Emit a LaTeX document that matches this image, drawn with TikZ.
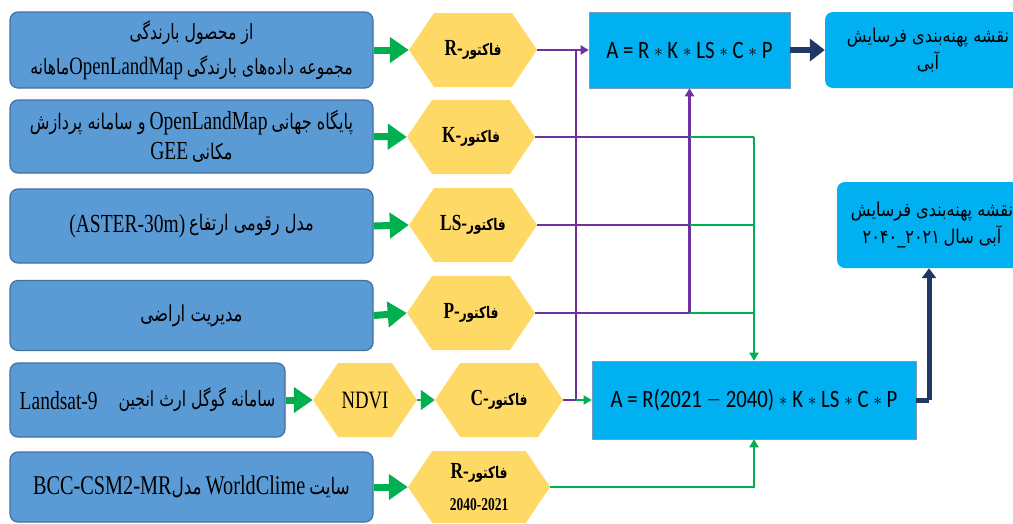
\documentclass[tikz,border=0pt]{standalone}
\usepackage{fontspec}
\setmainfont{Liberation Serif}[FakeStretch=0.75]
\newfontfamily\fa{DejaVu Sans}[Script=Arabic, FakeStretch=0.75]
\newfontfamily\fb{DejaVu Sans}[Script=Arabic, FakeStretch=0.85]
\newfontfamily\fml{Carlito}[FakeStretch=0.83]
\TeXXeTstate=1
\usetikzlibrary{shapes.symbols,arrows.meta}
\definecolor{boxblue}{HTML}{5B9BD5}
\definecolor{boxedge}{HTML}{41719C}
\definecolor{hexy}{HTML}{FFD966}
\definecolor{cyanb}{HTML}{00B0F0}
\definecolor{grn}{HTML}{00B050}
\definecolor{purp}{HTML}{7030A0}
\definecolor{navy}{HTML}{203864}
\newcommand{\pfa}[2][21]{{\fa\fontsize{#1}{#1}\selectfont\beginR #2\endR}}
\newcommand{\hfa}[1]{{\fa\bfseries\fontsize{16}{16}\selectfont\beginR #1\endR}}
\newcommand{\lat}[2][25]{{\fontsize{#1}{#1}\selectfont #2}}
\newcommand{\hlat}[1]{{\bfseries\fontsize{23}{23}\selectfont #1}}
\newcommand{\ofa}[1]{{\fb\fontsize{19}{19}\selectfont\beginR #1\endR}}
\newcommand{\fmla}[1]{{\fml\fontsize{25}{28}\selectfont #1}}
\newcommand{\mstar}{\raisebox{1.5pt}{\scalebox{0.7}{$\ast$}}}
\newcommand{\mminus}{\raisebox{1pt}{\scalebox{0.75}[1]{$-$}}}
\begin{document}
\begin{tikzpicture}[x=1pt,y=-1pt,
  lbox/.style={draw=boxedge, line width=1.2pt, fill=boxblue, rounded corners=8pt,
    minimum width=363pt, inner sep=1pt, align=center, text=black,
    font=\fontsize{21}{31}\selectfont},
  hex/.style={shape=signal, signal to=east and west, signal pointer angle=112,
    fill=hexy, minimum width=128pt, minimum height=74pt, inner sep=1pt, align=center},
  fbox/.style={draw=boxedge!70, line width=0.6pt, fill=cyanb, inner sep=0pt},
  obox/.style={fill=cyanb, rounded corners=8pt, inner sep=0pt},
  otext/.style={align=center, inner sep=0pt, font=\fontsize{19}{27}\selectfont},
  garr/.style={grn, line width=7pt, -{Triangle[length=19pt,width=25pt]}},
  gline/.style={grn, line width=2pt},
  pline/.style={purp, line width=2.5pt},
  tip/.style={-{Triangle[length=8pt,width=9pt]}},
]
\useasboundingbox (0,0) rectangle (1013,523);
\clip (0,0) rectangle (1013,523);

% left source boxes
\node[lbox, minimum height=76pt, font=\fontsize{21}{35}\selectfont] (b1) at (191.5,50)
  {\pfa{از محصول بارندگی}\\ \pfa{ماهانه}\lat{OpenLandMap} \pfa{مجموعه داده‌های بارندگی}};
\node[lbox, minimum height=73pt, font=\fontsize{21}{30}\selectfont] (b2) at (191.5,136.5)
  {\pfa[21.5]{و سامانه پردازش} \lat[26]{OpenLandMap} \pfa[21.5]{پایگاه جهانی}\\ \lat[26]{GEE} \pfa[21.5]{مکانی}};
\node[lbox, minimum height=74pt] (b3) at (191.5,226)
  {\raisebox{-1.5pt}{\lat[26]{(ASTER-30m)}} \pfa[21.5]{مدل رقومی ارتفاع}};
\node[lbox, minimum height=70pt] (b4) at (191.5,315.5)
  {\pfa[22]{مدیریت اراضی}};
\node[lbox, minimum height=74pt, minimum width=275pt] (b5) at (147.5,400)
  {\raisebox{-3pt}{\lat[26]{Landsat-9}}\quad\pfa{سامانه گوگل ارث انجین}};
\node[lbox, minimum height=70pt] (b6) at (191.5,487)
  {\lat[27]{BCC-CSM2-MR}\pfa[22.5]{مدل} \lat[27]{WorldClime} \pfa[22.5]{سایت}};

% hexagons
\node[hex] (hR) at (473,50) {\hlat{R-}\hfa{فاکتور}};
\node[hex] (hK) at (471,137) {\hlat{K-}\hfa{فاکتور}};
\node[hex] (hLS) at (473,225) {\hlat{LS-}\hfa{فاکتور}};
\node[hex] (hP) at (471,313) {\hlat{P-}\hfa{فاکتور}};
\node[hex, minimum width=104pt] (hN) at (365,400) {\lat{NDVI}};
\node[hex] (hC) at (499,400) {\hlat{C-}\hfa{فاکتور}};
\node[hex, minimum width=142pt, minimum height=72pt,
  font=\fontsize{16}{32}\selectfont] (hR2) at (479,487)
  {\hlat{R-}\hfa{فاکتور}\\{\bfseries\fontsize{18}{18}\selectfont 2040-2021}};

% formula boxes
\node[fbox, minimum width=201pt, minimum height=76pt] (f1) at (689.5,50)
  {\fmla{A = R \mstar{} K \mstar{} LS \mstar{} C \mstar{} P}};
\node[fbox, minimum width=324pt, minimum height=78pt] (f2) at (754,400)
  {\fmla{A = R(2021 \mminus{} 2040) \mstar{} K \mstar{} LS \mstar{} C \mstar{} P}};

% output boxes
\node[obox, minimum width=210pt, minimum height=76pt] (o1) at (930,50) {};
\node[otext] (o1t) at (928,50)
  {\ofa{نقشه پهنه‌بندی فرسایش}\\ \ofa{آبی}};
\node[obox, minimum width=203pt, minimum height=86pt] (o2) at (938.5,225) {};
\node[otext] (o2t) at (932,225)
  {\ofa{نقشه پهنه‌بندی فرسایش}\\
   \hbox{\fb\fontsize{19}{19}\selectfont ۲۰۴۰}\hbox{\fb\fontsize{19}{19}\selectfont\_}\hbox{\fb\fontsize{19}{19}\selectfont ۲۰۲۱} \ofa{آبی سال}};

% junction coordinates
\coordinate (jx) at (576,0);
\coordinate (nv) at (929,400);

% green block arrows
\draw[garr] (b1.east) -- (hR.west);
\draw[garr] (b2.east) -- (hK.west);
\draw[garr] (b3.east) -- (hLS.west);
\draw[garr] (b4.east) -- (hP.west);
\draw[garr] (b5.east) -- (hN.west);
\draw[garr] (b6.east) -- (hR2.west);
\draw[gline, -{Triangle[length=14pt,width=20pt]}] (hN.east) -- (hC.west);

% purple network
\draw[pline, tip] (hR.east) -- (f1.west);
\draw[pline] (hR.east -| jx) -- (hC.east -| jx);
\draw[pline] (hK.east) -- (hK.east -| f1.south);
\draw[pline] (hLS.east) -- (hLS.east -| f1.south);
\draw[pline] (hP.east) -- (hP.east -| f1.south);
\draw[pline, tip] (hP.east -| f1.south) -- (f1.south);
\draw[pline] (hC.east) -- (hC.east -| jx);

% green network
\draw[gline, tip] (hC.east -| jx) -- (f2.west);
\draw[gline] (hK.east -| f1.south) -- (hK.east -| f2.north);
\draw[gline] (hLS.east -| f1.south) -- (hLS.east -| f2.north);
\draw[gline] (hP.east -| f1.south) -- (hP.east -| f2.north);
\draw[gline, tip] (hK.east -| f2.north) -- (f2.north);
\draw[gline, tip] (hR2.east) -| (f2.south);

% navy arrows
\draw[navy, line width=6pt, -{Triangle[length=15pt,width=22pt]}] (f1.east) -- (o1.west);
\draw[navy, line width=5pt] (f2.east) -- (nv);
\draw[navy, line width=5pt, -{Triangle[length=10pt,width=14pt]}] (nv) -- (nv |- o2.south);
\end{tikzpicture}
\end{document}
